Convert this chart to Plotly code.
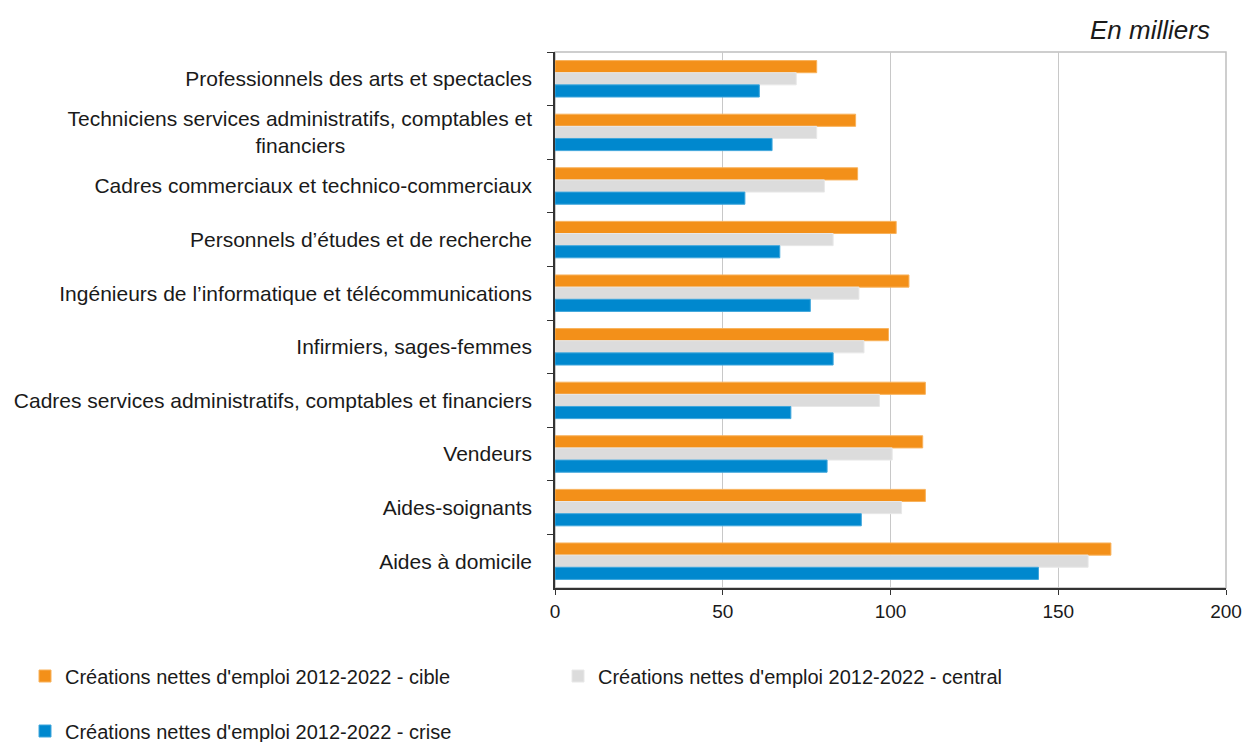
import plotly.graph_objects as go

categories = [
    "Professionnels des arts et spectacles",
    "Techniciens services administratifs, comptables et<br>financiers" + "\u00a0" * 32,
    "Cadres commerciaux et technico-commerciaux",
    "Personnels d\u2019études et de recherche",
    "Ingénieurs de l\u2019informatique et télécommunications",
    "Infirmiers, sages-femmes",
    "Cadres services administratifs, comptables et financiers",
    "Vendeurs",
    "Aides-soignants",
    "Aides à domicile",
]
cible = [78.0, 89.6, 90.2, 101.7, 105.5, 99.4, 110.4, 109.6, 110.4, 165.7]
central = [71.9, 78.0, 80.3, 82.9, 90.6, 92.1, 96.7, 100.5, 103.3, 158.9]
crise = [60.9, 64.7, 56.6, 67.0, 76.1, 82.9, 70.3, 81.1, 91.3, 144.1]
series_names = [
    "Créations nettes d'emploi 2012-2022 - cible",
    "Créations nettes d'emploi 2012-2022 - central",
    "Créations nettes d'emploi 2012-2022 - crise",
]
x_ticks = [0, 50, 100, 150, 200]

colors = ["#F39019", "#DCDCDC", "#0088CE"]
edge = ["#F8B25C", "#E8E8E8", "#3FA6DC"]
FONT = "Liberation Sans, Arial, sans-serif"

fig = go.Figure()
for i, (vals, name) in enumerate(zip([cible, central, crise], series_names)):
    fig.add_trace(go.Bar(
        y=categories, x=vals, name=name, orientation="h",
        marker=dict(color=colors[i], line=dict(color=edge[i], width=1)),
        legend=["legend", "legend2", "legend3"][i], showlegend=True,
    ))

PW = 671.0
PH = 536.0
leg_common = dict(xanchor="left", yanchor="middle", font=dict(size=20),
                  itemwidth=30, bgcolor="rgba(0,0,0,0)")

fig.update_layout(
    width=1247, height=742,
    margin=dict(l=555, r=21, t=52, b=154, autoexpand=False),
    paper_bgcolor="white", plot_bgcolor="white",
    barmode="group", bargap=0.32, bargroupgap=0.0,
    font=dict(family=FONT, size=21, color="#1a1a1a"),
    xaxis=dict(
        range=[0, 200], tickvals=x_ticks, showgrid=True, gridcolor="#C8C8C8", gridwidth=1,
        showline=True, linecolor="#333333", linewidth=1.5, ticks="outside", ticklen=5,
        tickcolor="#333333", zeroline=False, tickfont=dict(size=19), automargin=False,
    ),
    yaxis=dict(
        autorange="reversed", showline=True, linecolor="#333333", linewidth=1.5,
        ticks="outside", ticklen=6, tickcolor="#333333", tickson="boundaries",
        showgrid=False, tickfont=dict(size=21), ticklabelstandoff=17, automargin=False,
    ),
    shapes=[dict(type="rect", xref="x domain", yref="y domain", x0=0, x1=1, y0=0, y1=1,
                 line=dict(color="#BFBFBF", width=1.5), layer="below")],
    annotations=[dict(text="<i>En milliers</i>", xref="paper", yref="paper",
                      x=(1212 - 555) / PW, y=(588 - 30) / PH,
                      xanchor="right", yanchor="middle", showarrow=False,
                      font=dict(size=26, color="#1a1a1a"))],
    legend=dict(x=(25 - 555) / PW, y=(588 - 676) / PH, **leg_common),
    legend2=dict(x=(558 - 555) / PW, y=(588 - 676) / PH, **leg_common),
    legend3=dict(x=(25 - 555) / PW, y=(588 - 731) / PH, **leg_common),
)

fig.write_html("out.html",
               config={"displayModeBar": False},
               post_script="document.body.style.margin='0';document.body.style.overflow='hidden';")
